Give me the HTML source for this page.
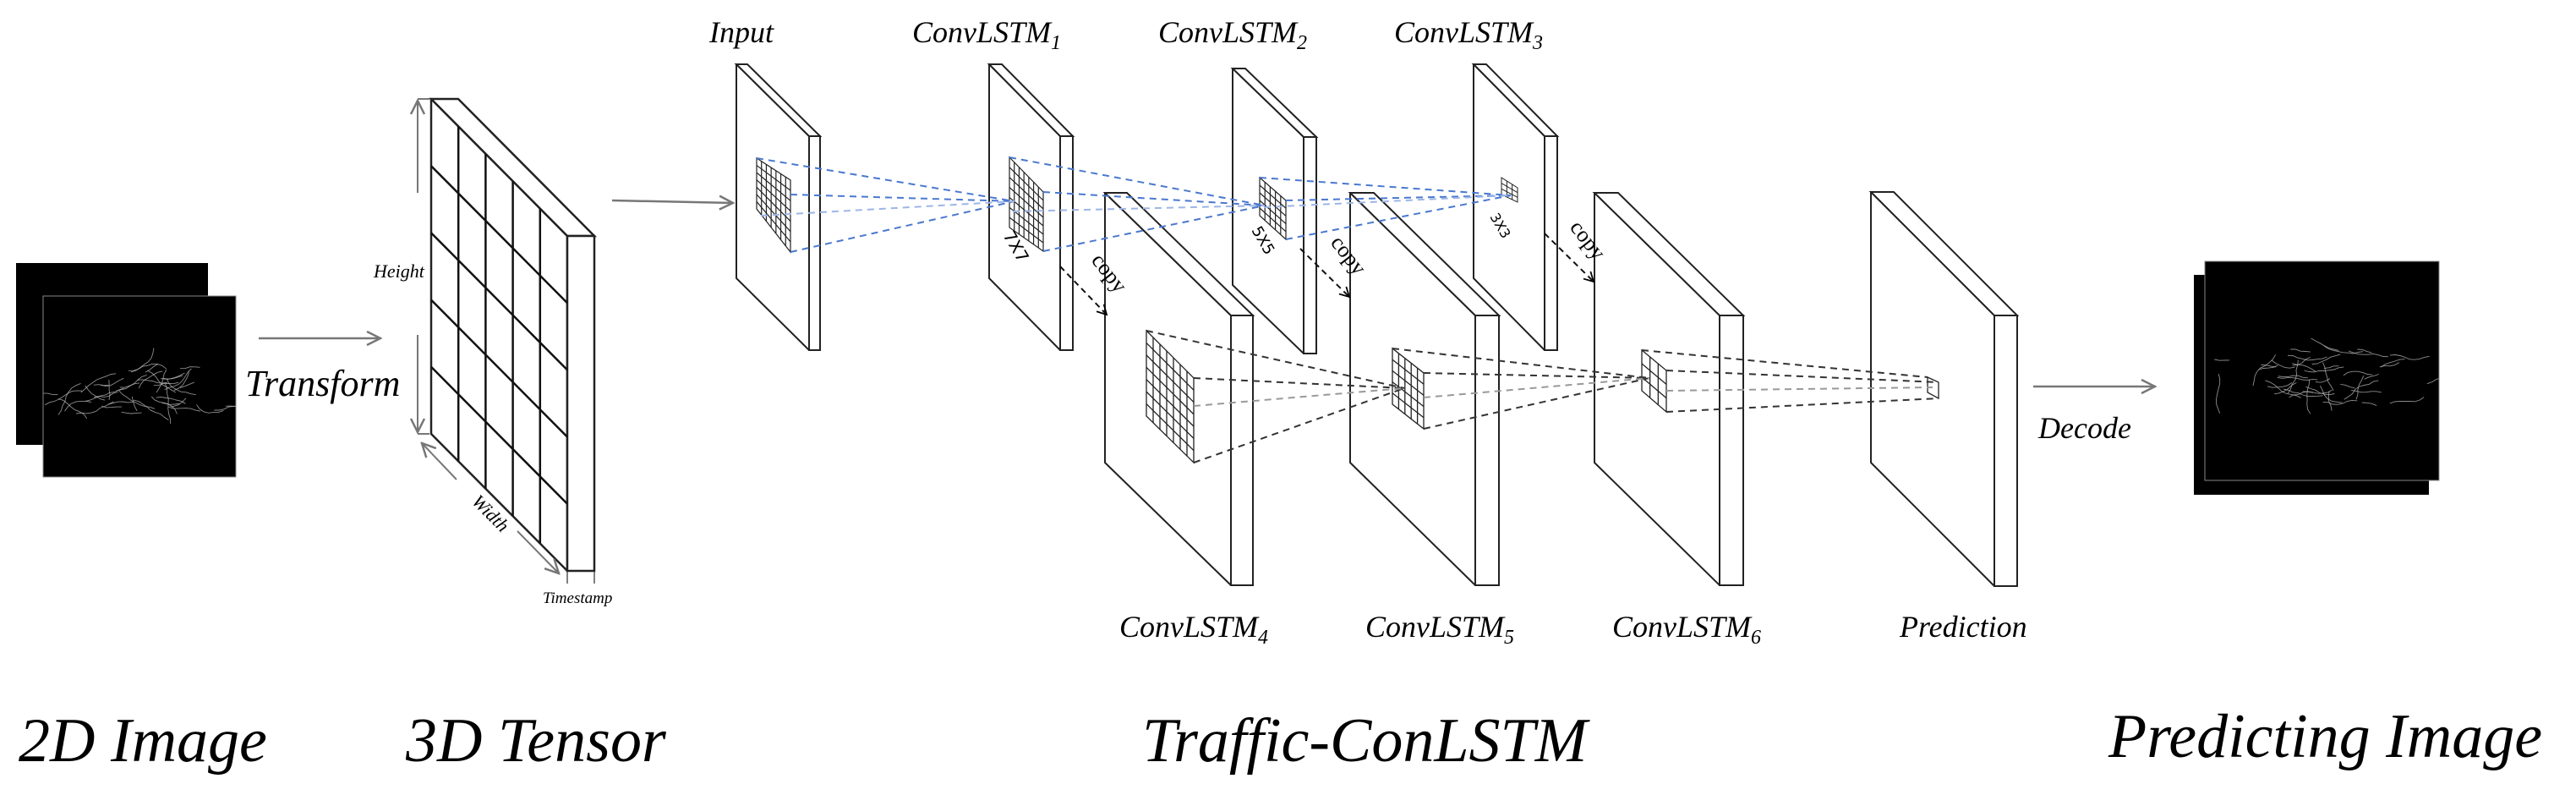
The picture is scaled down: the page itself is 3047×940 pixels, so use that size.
<!DOCTYPE html>
<html><head><meta charset="utf-8"><style>
html,body{margin:0;padding:0;background:#fff;}
svg{display:block;}
text{font-family:"Liberation Serif",serif;font-style:italic;fill:#000;}
</style></head><body>
<svg id="s" width="3047" height="940" viewBox="0 0 3047 940" xmlns="http://www.w3.org/2000/svg">
<defs>
<marker id="ag" markerWidth="20" markerHeight="20" refX="18" refY="10" orient="auto" markerUnits="userSpaceOnUse"><path d="M2,2 L18,10 L2,18" fill="none" stroke="#777" stroke-width="2.5"/></marker>
<marker id="ak" markerWidth="14" markerHeight="14" refX="12" refY="7" orient="auto" markerUnits="userSpaceOnUse"><path d="M1,1 L12,7 L1,13" fill="none" stroke="#000" stroke-width="1.8"/></marker>
<clipPath id="c1"><rect x="51" y="350" width="228" height="214"/></clipPath>
<clipPath id="c2"><rect x="2608" y="309" width="277" height="259"/></clipPath>
</defs>
<g id="shapes"></g>
<g id="lines"></g>
<text x="290" y="468" font-size="44">Transform</text>
<text x="442" y="328" font-size="22">Height</text>
<text x="0" y="0" font-size="22" transform="translate(557,594) rotate(45)">Width</text>
<text x="642" y="713" font-size="19">Timestamp</text>
<text x="839" y="50" font-size="36">Input</text>
<text x="1079" y="50" font-size="36">ConvLSTM<tspan font-size="24" dy="8">1</tspan></text>
<text x="1370" y="50" font-size="36">ConvLSTM<tspan font-size="24" dy="8">2</tspan></text>
<text x="1649" y="50" font-size="36">ConvLSTM<tspan font-size="24" dy="8">3</tspan></text>
<text x="1324" y="753" font-size="36">ConvLSTM<tspan font-size="24" dy="8">4</tspan></text>
<text x="1615" y="753" font-size="36">ConvLSTM<tspan font-size="24" dy="8">5</tspan></text>
<text x="1907" y="753" font-size="36">ConvLSTM<tspan font-size="24" dy="8">6</tspan></text>
<text x="2247" y="753" font-size="36">Prediction</text>
<text x="2411" y="518" font-size="36">Decode</text>
<text x="0" y="0" font-size="20" style="font-style:normal;font-family:'DejaVu Sans',sans-serif" transform="translate(1186,278) rotate(60)">7X7</text>
<text x="0" y="0" font-size="18" style="font-style:normal;font-family:'DejaVu Sans',sans-serif" transform="translate(1480,272) rotate(60)">5X5</text>
<text x="0" y="0" font-size="16" style="font-style:normal;font-family:'DejaVu Sans',sans-serif" transform="translate(1762,256) rotate(60)">3X3</text>
<text x="0" y="0" font-size="26" style="font-style:normal" transform="translate(1290,308) rotate(52)">copy</text>
<text x="0" y="0" font-size="26" style="font-style:normal" transform="translate(1573,287) rotate(52)">copy</text>
<text x="0" y="0" font-size="26" style="font-style:normal" transform="translate(1856,269) rotate(52)">copy</text>
<text x="22" y="900" font-size="74">2D Image</text>
<text x="480" y="900" font-size="74">3D Tensor</text>
<text x="1351" y="900" font-size="74">Traffic-ConLSTM</text>
<text x="2494" y="895" font-size="74">Predicting Image</text>
</svg>
<script>
var NS="http://www.w3.org/2000/svg";
var S=document.getElementById("shapes"),Ln=document.getElementById("lines");
function el(p,t,a){var e=document.createElementNS(NS,t);for(var k in a)e.setAttribute(k,a[k]);p.appendChild(e);return e;}
function pts(a){return a.map(function(p){return p[0]+","+p[1]}).join(" ");}
function slab(L,W,th,yt,dr,H,sw){sw=sw||2;
 el(S,"polygon",{points:pts([[L,yt],[L+W,yt+dr],[L+W,yt+dr+H],[L,yt+H]]),fill:"#fff",stroke:"#222","stroke-width":sw,"stroke-linejoin":"round"});
 el(S,"polygon",{points:pts([[L,yt],[L+th,yt],[L+W+th,yt+dr],[L+W,yt+dr]]),fill:"#fff",stroke:"#222","stroke-width":sw});
 el(S,"rect",{x:L+W,y:yt+dr,width:th,height:H,fill:"#fff",stroke:"#222","stroke-width":sw});}
function lerp(a,b,t){return [a[0]+(b[0]-a[0])*t,a[1]+(b[1]-a[1])*t];}
function grid(TL,TR,BR,BL,n,sw,g){g=g||S;
 el(g,"polygon",{points:pts([TL,TR,BR,BL]),fill:"#fff",stroke:"#222","stroke-width":sw});
 for(var i=1;i<n;i++){var t=i/n;
  var a=lerp(TL,TR,t),b=lerp(BL,BR,t);el(g,"line",{x1:a[0],y1:a[1],x2:b[0],y2:b[1],stroke:"#222","stroke-width":sw});
  a=lerp(TL,BL,t);b=lerp(TR,BR,t);el(g,"line",{x1:a[0],y1:a[1],x2:b[0],y2:b[1],stroke:"#222","stroke-width":sw});}}
function dl(a,b,c,w,da,m){var e=el(Ln,"line",{x1:a[0],y1:a[1],x2:b[0],y2:b[1],stroke:c,"stroke-width":w||2,"stroke-dasharray":da||"8,6"});if(m)e.setAttribute("marker-end",m);}
function line(a,b,c,w,m){var e=el(S,"line",{x1:a[0],y1:a[1],x2:b[0],y2:b[1],stroke:c,"stroke-width":w});if(m)e.setAttribute("marker-end",m);}
function traffic(x,y,w,h,clip,seed){
 el(S,"rect",{x:x,y:y,width:w,height:h,fill:"#000"});
 var g=el(S,"g",{"clip-path":"url(#"+clip+")"});var r=seed;
 function rnd(){r=(r*16807)%2147483647;return r/2147483647;}
 for(var i=0;i<45;i++){var px=x+w*(0.2+0.6*rnd()),py=y+h*(0.4+0.25*rnd());if(i<10){px=x+w*rnd();}
  var d="M"+px.toFixed(1)+","+py.toFixed(1);var ang=(rnd()-0.5)*0.5+(rnd()<0.5?0:Math.PI);
  if(i%6==5)ang=Math.PI/2+(rnd()-0.5);
  var n=3+Math.floor(rnd()*6);for(var k=0;k<n;k++){ang+=(rnd()-0.5)*0.8;px+=Math.cos(ang)*6;py+=Math.sin(ang)*6;d+=" L"+px.toFixed(1)+","+py.toFixed(1);}
  el(g,"path",{d:d,fill:"none",stroke:"#bbb","stroke-width":0.9,opacity:0.75});}}
el(S,"rect",{x:19,y:311,width:227,height:215,fill:"#000"});
traffic(51,350,228,214,"c1",12345);
el(S,"rect",{x:51,y:350,width:228,height:214,fill:"none",stroke:"#888","stroke-width":1});
el(S,"rect",{x:2595,y:325,width:278,height:260,fill:"#000"});
traffic(2608,309,277,259,"c2",777);
el(S,"rect",{x:2608,y:309,width:277,height:259,fill:"none",stroke:"#888","stroke-width":1});
line([306,400],[450,400],"#777",2.5,"url(#ag)");
line([724,237],[867,240],"#777",2.5,"url(#ag)");
line([2405,457],[2549,457],"#777",2.5,"url(#ag)");
slab(510,161,32,117,162,396,2.5);
for(var i=1;i<5;i++){var t=i/5;var x=510+161*t;line([x,117+162*t],[x,513+162*t],"#111",2.5);
 var yy=117+396*t;line([510,yy],[671,yy+162],"#111",2.5);}
line([494,228],[494,119],"#777",2,"url(#ag)");
line([494,396],[494,511],"#777",2,"url(#ag)");
line([540,567],[499,524],"#777",2,"url(#ag)");
line([612,628],[661,678],"#777",2,"url(#ag)");
line([494,117],[508,117],"#777",2);line([494,513],[508,513],"#777",2);
line([671,676],[671,690],"#555",1.5);line([703,676],[703,690],"#555",1.5);
slab(1307,149,26,228,145,319);
slab(1597,148,28,228,145,319);
slab(1886,148,28,228,145,319);
slab(2213,146,27,227,146,320);
slab(871,86,13,76,85,253);
slab(1170,84,15,76,85,253);
slab(1458,84,15,81,81,256);
slab(1743,84,15,76,85,253);
grid([895,187],[935,213],[935,298],[895,247],7,1.2);
grid([1194,186],[1234,227],[1234,297],[1194,269],7,1.2);
grid([1490,210],[1521,237],[1521,283],[1490,255],5,1.2);
grid([1776,210],[1795,222],[1795,239],[1776,230],3,1);
grid([1356,391],[1412,447],[1412,547],[1356,492],7,1.3);
grid([1647,412],[1684,441],[1684,507],[1647,478],5,1.3);
grid([1942,414],[1971,438],[1971,487],[1942,462],3,1.3);
grid([2280,446],[2293,452],[2293,471],[2280,464],1,1.3);
var B="#4a78d0",B2="#9db6e6";
var p1=[1200,238];
dl([895,187],p1,B);dl([935,230],p1,B);dl([935,298],p1,B);dl([900,255],p1,B2);
var p2=[1496,243];
dl([1194,186],p2,B);dl([1234,227],p2,B);dl([1234,297],p2,B);dl([1198,250],p2,B2);
var p3=[1787,231];
dl([1490,210],p3,B);dl([1521,237],p3,B);dl([1521,283],p3,B);dl([1495,245],p3,B2);
var K="#333",K2="#999";
var q1=[1661,459];
dl([1356,391],q1,K);dl([1412,447],q1,K);dl([1412,547],q1,K);dl([1412,480],q1,K2);
var q2=[1951,447];
dl([1647,412],q2,K);dl([1684,441],q2,K);dl([1684,507],q2,K);dl([1684,470],q2,K2);
var q3=[2286,458];
dl([1942,414],[2280,446],K);dl([1971,438],[2293,452],K);dl([1971,487],[2293,471],K);dl([1971,462],q3,K2);
dl([1254,315],[1309,372],"#111",2,"7,5","url(#ak)");
dl([1538,294],[1596,351],"#111",2,"7,5","url(#ak)");
dl([1827,276],[1885,333],"#111",2,"7,5","url(#ak)");
</script>
</body></html>
